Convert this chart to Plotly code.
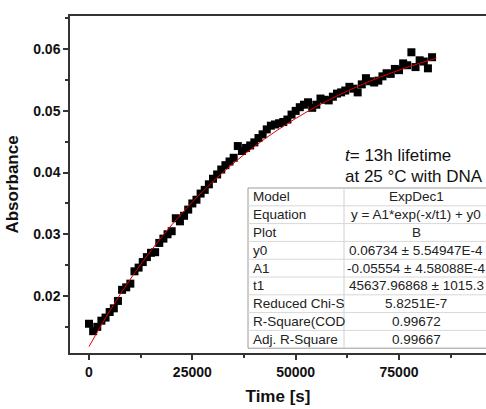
import plotly.graph_objects as go

# ---- data ----
time_s = [0, 1000, 2000, 3000, 4000, 5000, 6000, 7000, 8000, 9000,
          10000, 11000, 12000, 13000, 14000, 15000, 16000, 17000, 18000, 19000,
          20000, 21000, 22000, 23000, 24000, 25000, 26000, 27000, 28000, 29000,
          30000, 31000, 32000, 33000, 34000, 35000, 36000, 37000, 38000, 39000,
          40000, 41000, 42000, 43000, 44000, 45000, 46000, 47000, 48000, 49000,
          50000, 51000, 52000, 53000, 54000, 55000, 56000, 57000, 58000, 59000,
          60000, 61000, 62000, 63000, 64000, 65000, 66000, 67000, 68000, 69000,
          70000, 71000, 72000, 73000, 74000, 75000, 76000, 77000, 78000, 79000,
          80000, 81000, 82000, 83000]
absorbance = [0.0155, 0.0143, 0.0150, 0.0160, 0.0165, 0.0174, 0.0180, 0.0192, 0.0210, 0.0214,
              0.0220, 0.0240, 0.0246, 0.0255, 0.0263, 0.0270, 0.0271, 0.0286, 0.0293, 0.0300,
              0.0305, 0.0326, 0.0321, 0.0330, 0.0340, 0.0350, 0.0356, 0.0366, 0.0372, 0.0381,
              0.0390, 0.0397, 0.0405, 0.0412, 0.0418, 0.0424, 0.0443, 0.0435, 0.0440, 0.0444,
              0.0449, 0.0456, 0.0462, 0.0470, 0.0476, 0.0478, 0.0480, 0.0482, 0.0486, 0.0494,
              0.0500, 0.0506, 0.0510, 0.0514, 0.0505, 0.0510, 0.0520, 0.0518, 0.0517, 0.0523,
              0.0528, 0.0530, 0.0533, 0.0539, 0.0536, 0.0530, 0.0543, 0.0553, 0.0548, 0.0546,
              0.0549, 0.0556, 0.0561, 0.0560, 0.0568, 0.0566, 0.0577, 0.0574, 0.0595, 0.0571,
              0.0582, 0.0580, 0.0569, 0.0587]

fit_time = [0, 5000, 10000, 15000, 20000, 25000, 30000, 35000, 40000, 45000,
            50000, 55000, 60000, 65000, 70000, 75000, 80000, 84000]
fit_abs = [0.01180, 0.01756, 0.02273, 0.02736, 0.03151, 0.03523, 0.03856, 0.04154, 0.04422, 0.04662,
           0.04877, 0.05070, 0.05242, 0.05397, 0.05536, 0.05660, 0.05772, 0.05852]

table_labels = ["Model", "Equation", "Plot", "y0", "A1", "t1",
                "Reduced Chi-S", "R-Square(COD", "Adj. R-Square"]
table_values = ["ExpDec1", "y = A1*exp(-x/t1) + y0", "B", "0.06734 ± 5.54947E-4",
                "-0.05554 ± 4.58088E-4", "45637.96868 ± 1015.3", "5.8251E-7",
                "0.99672", "0.99667"]

x_ticks = [0, 25000, 50000, 75000]
x_ticktext = ["0", "25000", "50000", "75000"]
y_ticks = [0.02, 0.03, 0.04, 0.05, 0.06]
y_ticktext = ["0.02", "0.03", "0.04", "0.05", "0.06"]

FONT = "Liberation Sans, Arial, sans-serif"
W, H = 486, 409
ML, MR, MT, MB = 70, 0, 16, 56
PW, PH = W - ML - MR, H - MT - MB


def px(xp):
    return (xp - ML) / PW


def py(yp):
    return (H - MB - yp) / PH


fig = go.Figure()
fig.add_trace(go.Scatter(
    x=time_s, y=absorbance, mode="markers",
    marker=dict(symbol="square", size=8, color="black", line=dict(width=0)),
    showlegend=False))
fig.add_trace(go.Scatter(
    x=fit_time, y=fit_abs, mode="lines", line=dict(color="#e00000", width=1, shape="spline"),
    showlegend=False))

# ---- fit results table (shapes + text) ----
t_left, t_right, t_div, t_top, row_h = 248, 490, 344, 188, 17.8
n_rows = len(table_labels)
t_bottom = t_top + n_rows * row_h
shapes = []
shapes.append(dict(type="rect", xref="paper", yref="paper", x0=px(t_left), x1=px(t_right),
                   y0=py(t_bottom), y1=py(t_top), line=dict(color="#9a9a9a", width=1),
                   fillcolor="white", layer="below"))
shapes.append(dict(type="line", xref="paper", yref="paper", x0=px(t_div), x1=px(t_div),
                   y0=py(t_bottom), y1=py(t_top), line=dict(color="#d0d0d0", width=1)))
for i in range(1, n_rows):
    yy = py(t_top + i * row_h)
    shapes.append(dict(type="line", xref="paper", yref="paper", x0=px(t_left), x1=px(t_right),
                       y0=yy, y1=yy, line=dict(color="#d8d8d8", width=1)))
for i, (lab, val) in enumerate(zip(table_labels, table_values)):
    yc = py(t_top + (i + 0.5) * row_h)
    fig.add_annotation(xref="paper", yref="paper", x=px(t_left + 3), y=yc, xanchor="left",
                       yanchor="middle", text=lab, showarrow=False,
                       font=dict(family=FONT, size=13.5, color="#222"))
    fig.add_annotation(xref="paper", yref="paper", x=px(416), y=yc, xanchor="center",
                       yanchor="middle", text=val, showarrow=False,
                       font=dict(family=FONT, size=13.5, color="#222"))

fig.add_annotation(xref="paper", yref="paper", x=px(343), y=py(155), xanchor="left", yanchor="middle",
                   text="<i>t</i>= 13h lifetime", showarrow=False,
                   font=dict(family=FONT, size=17, color="#111"))
fig.add_annotation(xref="paper", yref="paper", x=px(343), y=py(177), xanchor="left", yanchor="middle",
                   text="at 25 °C with DNA", showarrow=False,
                   font=dict(family=FONT, size=17, color="#111"))

fig.update_layout(
    width=W, height=H,
    margin=dict(l=ML, r=MR, t=MT, b=MB),
    paper_bgcolor="white", plot_bgcolor="rgba(0,0,0,0)",
    font=dict(family=FONT, color="#111"),
    shapes=shapes,
    xaxis=dict(range=[-4600, 96050], tickvals=x_ticks, ticktext=x_ticktext, ticks="outside", ticklen=5,
               tickwidth=1.5, showline=True, linecolor="#333", linewidth=1.5, mirror=True, showgrid=False,
               zeroline=False, tickfont=dict(family=FONT, size=14, weight="bold", color="#111"),
               minor=dict(tickvals=[12500, 37500, 62500, 87500], ticks="outside", ticklen=3, tickwidth=1.5,
                          tickcolor="#333"),
               tickcolor="#333",
               title=dict(text="Time [s]", font=dict(family=FONT, size=17, weight="bold", color="#111"),
                          standoff=12)),
    yaxis=dict(range=[0.01076, 0.06538], tickvals=y_ticks, ticktext=y_ticktext, ticks="outside", ticklen=5,
               tickwidth=1.5, showline=True, linecolor="#333", linewidth=1.5, showgrid=False, zeroline=False,
               tickfont=dict(family=FONT, size=14, weight="bold", color="#111"),
               minor=dict(tickvals=[0.015, 0.025, 0.035, 0.045, 0.055, 0.065], ticks="outside", ticklen=3,
                          tickwidth=1.5, tickcolor="#333"),
               tickcolor="#333",
               title=dict(text="Absorbance", font=dict(family=FONT, size=17, weight="bold", color="#111"),
                          standoff=10)),
)

fig.write_html("out.html")
